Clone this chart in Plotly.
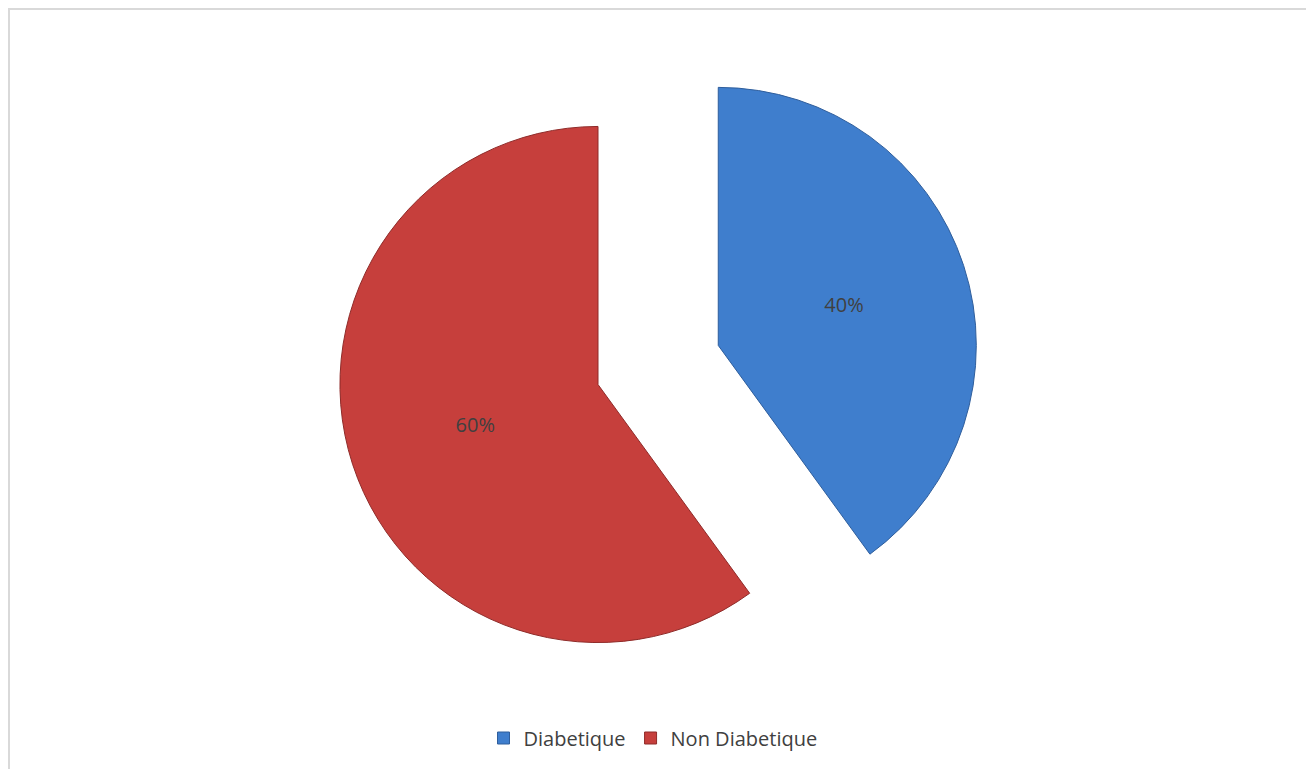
import plotly.graph_objects as go

# Répartition des patients
categories = ["Diabetique", "Non Diabetique"]
percentages = [40, 60]
slice_colors = ["#3F7ECD", "#C63F3C"]
edge_colors = ["#2F5E9C", "#8F2B29"]
explode = [0.49, 0]

W, H = 1306, 769
cx = 598 / W  # horizontal centre of the pie within the figure

fig = go.Figure(
    go.Pie(
        labels=categories,
        values=percentages,
        sort=False,
        direction="clockwise",
        rotation=0,
        pull=explode,
        texttemplate="%{value}%",
        textposition="inside",
        insidetextorientation="horizontal",
        textfont=dict(family="Open Sans", size=20, color="#404040"),
        marker=dict(colors=slice_colors, line=dict(color=edge_colors, width=1)),
        domain=dict(x=[cx - 0.3, cx + 0.3], y=[0, 1]),
        hoverinfo="label+percent",
    )
)

fig.update_layout(
    width=W,
    height=H,
    margin=dict(l=0, r=0, t=0, b=0),
    paper_bgcolor="white",
    plot_bgcolor="white",
    showlegend=True,
    legend=dict(
        orientation="h",
        x=0.5,
        xanchor="center",
        y=(H - 738) / H,
        yanchor="middle",
        font=dict(family="Open Sans", size=20, color="#404040"),
        itemwidth=30,
        traceorder="normal",
    ),
    shapes=[
        dict(
            type="rect",
            xref="paper",
            yref="paper",
            x0=9 / W,
            y0=-0.05,
            x1=1.05,
            y1=(H - 9) / H,
            line=dict(color="#D9D9D9", width=2),
            fillcolor="rgba(0,0,0,0)",
            layer="below",
        )
    ],
)

fig.write_html("out.html")
